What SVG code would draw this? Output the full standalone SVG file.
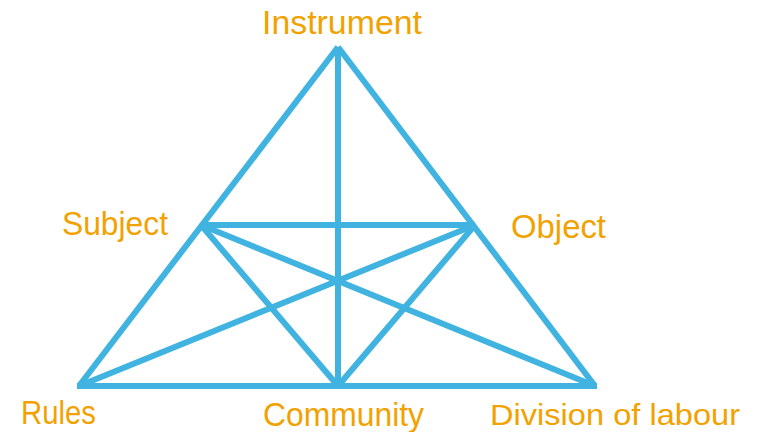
<svg xmlns="http://www.w3.org/2000/svg" width="757" height="432" viewBox="0 0 757 432">
<style>
.e{stroke:#41b3e0;stroke-width:6;fill:none;stroke-linecap:butt}
.t{font-family:"Liberation Sans",Arial,sans-serif;fill:#f2a200}
</style>
<rect width="757" height="432" fill="#ffffff"/>
<g id="connectors">
<line class="e" x1="338" y1="47" x2="79" y2="386"/>
<line class="e" x1="338" y1="47" x2="595" y2="386"/>
<line class="e" x1="77" y1="386" x2="597" y2="386"/>
<line class="e" x1="338" y1="47" x2="338" y2="386"/>
<line class="e" x1="201" y1="225" x2="475" y2="225"/>
<line class="e" x1="201" y1="225" x2="338" y2="386"/>
<line class="e" x1="475" y1="225" x2="338" y2="386"/>
<line class="e" x1="201" y1="225" x2="595" y2="386"/>
<line class="e" x1="475" y1="225" x2="79" y2="386"/>
</g>
<g id="instrument"><text class="t" x="262" y="34" font-size="34" textLength="160" lengthAdjust="spacingAndGlyphs">Instrument</text></g>
<g id="subject"><text class="t" x="62" y="235" font-size="34" textLength="106" lengthAdjust="spacingAndGlyphs">Subject</text></g>
<g id="object"><text class="t" x="511" y="238" font-size="34" textLength="95" lengthAdjust="spacingAndGlyphs">Object</text></g>
<g id="rules"><text class="t" x="21" y="424" font-size="33" textLength="75" lengthAdjust="spacingAndGlyphs">Rules</text></g>
<g id="community"><text class="t" x="263" y="426" font-size="34" textLength="161" lengthAdjust="spacingAndGlyphs">Community</text></g>
<g id="division"><text class="t" x="490" y="425" font-size="30" textLength="250" lengthAdjust="spacingAndGlyphs">Division of labour</text></g>
</svg>
